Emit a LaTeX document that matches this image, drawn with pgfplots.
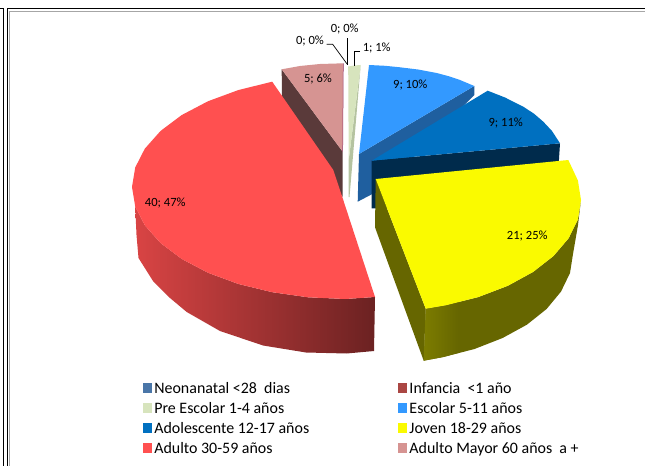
\documentclass[border=0pt]{standalone}
\usepackage{fontspec}
\setmainfont{Carlito}
\usepackage{pgfplots}
\pgfplotsset{compat=1.18}
\definecolor{cneo}{HTML}{4A76A8}
\definecolor{cinf}{HTML}{AA4643}
\definecolor{cpre}{HTML}{D7E4BD}
\definecolor{cpreside}{HTML}{B5C3A0}
\definecolor{cesc}{HTML}{3399FF}
\definecolor{cescside}{HTML}{1F5F9F}
\definecolor{cado}{HTML}{0070C0}
\definecolor{cadoside}{HTML}{002B4C}
\definecolor{cjov}{HTML}{FAFA00}
\definecolor{cjovside}{HTML}{666600}
\definecolor{cadu}{HTML}{FF5050}
\definecolor{cmay}{HTML}{D69492}
\definecolor{cmayside}{HTML}{5A3A3A}
\definecolor{cmayline}{HTML}{953B6B}
\tikzset{
  lab/.style={font=\fontsize{12.6}{14}\selectfont,text=black,inner sep=0pt},
}
\pgfplotsset{
  wedge/.style={forget plot,draw=none,fill=#1},
  leader/.style={forget plot,draw=black,line width=0.7pt},
  frame/.style={forget plot,draw=black,line width=1pt},
}
\begin{document}
\begin{tikzpicture}
\begin{axis}[
  width=645bp, height=466bp, scale only axis,
  xmin=0, xmax=645, ymin=0, ymax=466, y dir=reverse,
  hide axis, clip=true,
  legend columns=2,
  legend cell align=left,
  legend image code/.code={\path[draw opacity=0,#1] (0pt,-5pt) rectangle (9pt,5pt);},
  legend style={draw=none,fill=none,at={(axis cs:143,380)},anchor=north west,
    font=\fontsize{16}{18}\selectfont,inner sep=0pt,outer sep=0pt,
    /tikz/row sep=3.5pt,
    /tikz/every even column/.style={column sep=86.5bp}},
]
% keeps the whole page in the picture
\path (axis cs:0,0) rectangle (axis cs:645,466);
% frame of the pasted picture
\addplot[forget plot,draw=black!35,line width=1pt] coordinates {(9,466) (9,11) (645,11)};
\addplot[frame] coordinates {(0,9) (3.5,9) (3.5,466)};
\addplot[frame] coordinates {(7.5,466) (7.5,9) (645,9)};

% Adulto Mayor
\addplot[wedge=cmayside] coordinates {(281.7,69.3) (342.7,151.7) (342.7,197) (282,112) (281.7,69.3)};
\addplot[wedge=cmay] coordinates {(281.7,69.3) (300,66) (320,64) (343.3,63.3) (342.7,151.7) (281.7,69.3)};
\addplot[forget plot,draw=cmayline,line width=0.5pt] coordinates {(343.3,63.3) (342.7,151.7)};

% Pre Escolar
\addplot[wedge=cpreside] coordinates {(360.7,65) (349.5,197) (348.7,197) (348.7,160) (360.7,65)};
\addplot[wedge=cpre] coordinates {(348.2,66.5) (354,65.5) (360.7,65) (348.7,160) (348.2,66.5)};

% Escolar
\addplot[wedge=cescside] coordinates {(474.3,86) (359,154) (357.7,201.7) (380,190) (474.3,95) (474.3,86)};
\addplot[wedge=cesc] coordinates {(369,65) (385,65.8) (400,67.3) (418,69.5) (436.7,73) (449,76.3) (460,80) (474.3,86) (359,154) (369,65)};

% Adolescente
\addplot[wedge=cadoside] coordinates {(560,143.3) (371.7,160.7) (371.7,208.3) (400,208) (558.3,170) (560,143.3)};
\addplot[wedge=cado] coordinates {(487.7,90.7) (505,97.5) (523.3,106.7) (534,113.7) (543.3,121.7) (552,131) (560,143.3) (371.7,160.7) (487.7,90.7)};

% Adulto
\addplot[forget plot,draw=none,left color=cadu!85!black,middle color=cadu!60!black,right color=cadu!42!black]
  coordinates {(135.2,206.5) (144.8,225.3) (160.5,243) (181.8,259) (208.1,272.8) (238.5,284) (272.2,292.2) (308,297.3) (345,299) (375,297)
  (374,351) (346.7,353.5) (306,352.5) (263,345.5) (220,331) (186.7,312) (170,298) (153,281) (138.5,258) (136.5,235) (135.2,206.5)};
\addplot[wedge=cadu] coordinates {(272.2,81.7) (238.5,90) (208.1,101.2) (181.8,115) (160.5,131) (144.8,148.7) (135.2,167.5) (132,187)
  (135.2,206.5) (144.8,225.3) (160.5,243) (181.8,259) (208.1,272.8) (238.5,284) (272.2,292.2) (308,297.3) (345,299) (375,297)
  (342.7,198.3) (333.3,170) (272.2,81.7)};

% Joven
\addplot[wedge=cjovside] coordinates {(375.7,179) (425.7,308.7) (423.7,360.7) (375,227.3) (375.7,179)};
\addplot[wedge=cjovside] coordinates {(581,200) (577.9,219.5) (568.6,238.3) (553.5,256) (533,272) (507.8,285.8) (478.5,297) (446.1,305.2) (425.7,308.7)
  (423.7,360.7) (443.4,357) (474.5,349) (502.6,338) (526.9,324.7) (546.6,309) (561,291.6) (570,273) (573,254) (578,225) (581,200)};
\addplot[forget plot,draw=none,left color=cjovside!85!cjov,right color=cjovside]
  coordinates {(425.7,308.7) (446.1,305.2) (458,302) (458,353) (443.4,357) (423.7,360.7) (425.7,308.7)};
\addplot[wedge=cjov] coordinates {(375.7,179) (568.3,160) (577.9,180.5) (581,200) (577.9,219.5) (568.6,238.3) (553.5,256) (533,272) (507.8,285.8) (478.5,297) (446.1,305.2) (425.7,308.7) (375.7,179)};

% leader lines
\addplot[leader] coordinates {(326.7,44.3) (332.7,44.3) (347.3,64.3)};
\addplot[leader] coordinates {(347.7,38.3) (347.7,65)};
\addplot[leader] coordinates {(360,51.7) (354.7,51.7) (354.7,65.7)};

% legend
\addlegendimage{fill=cneo}
\addlegendentry{Neonanatal <28\ \ dias}
\addlegendimage{fill=cinf}
\addlegendentry{Infancia\ \ <1 año}
\addlegendimage{fill=cpre}
\addlegendentry{Pre Escolar 1-4 años}
\addlegendimage{fill=cesc}
\addlegendentry{Escolar 5-11 años}
\addlegendimage{fill=cado}
\addlegendentry{Adolescente 12-17 años}
\addlegendimage{fill=cjov}
\addlegendentry{Joven 18-29 años}
\addlegendimage{fill=cadu}
\addlegendentry{Adulto 30-59 años}
\addlegendimage{draw opacity=1,draw=cmayline,fill=cmay,line width=0.8pt}
\addlegendentry{Adulto Mayor 60 años\ \ a +}

% data labels
\node[lab] at (axis cs:310,40.7) {0; 0\%};
\node[lab] at (axis cs:344.7,29.3) {0; 0\%};
\node[lab] at (axis cs:376.7,47.7) {1; 1\%};
\node[lab] at (axis cs:318,78.7) {5; 6\%};
\node[lab] at (axis cs:410.3,84.7) {9; 10\%};
\node[lab] at (axis cs:505.7,123.3) {9; 11\%};
\node[lab] at (axis cs:527.3,235.7) {21; 25\%};
\node[lab] at (axis cs:165.3,202.7) {40; 47\%};
\end{axis}
\end{tikzpicture}
\end{document}
